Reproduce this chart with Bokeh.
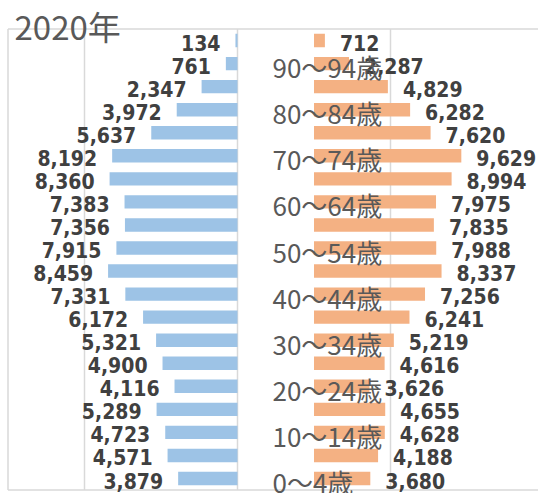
from bokeh.plotting import figure
from bokeh.models import ColumnDataSource, Range1d, Label
from bokeh.core.properties import value
from bokeh.embed import file_html
from bokeh.resources import INLINE

title_text = "2020年"
age_groups = ["0〜4歳", "5〜9歳", "10〜14歳", "15〜19歳", "20〜24歳", "25〜29歳",
              "30〜34歳", "35〜39歳", "40〜44歳", "45〜49歳", "50〜54歳", "55〜59歳",
              "60〜64歳", "65〜69歳", "70〜74歳", "75〜79歳", "80〜84歳", "85〜89歳",
              "90〜94歳", "95歳以上"]
male = [3879, 4571, 4723, 5289, 4116, 4900, 5321, 6172, 7331, 8459,
        7915, 7356, 7383, 8360, 8192, 5637, 3972, 2347, 761, 134]
female = [3680, 4188, 4628, 4655, 3626, 4616, 5219, 6241, 7256, 8337,
          7988, 7835, 7975, 8994, 9629, 7620, 6282, 4829, 2287, 712]

OFFSET = 5000  # gap between the two halves (layout)
W, H = 538, 493
CX = 237          # pixel of the centre line
PX = 0.0153       # px per unit
ROW = 23.05       # px per row
Y0 = 478          # pixel of row 0
x0 = -CX / PX
x1 = (W - CX) / PX

idx = list(range(len(age_groups)))
src = ColumnDataSource(dict(
    y=idx,
    m_left=[-v for v in male],
    m_lab=[f"{v:,}" for v in male],
    f_left=[OFFSET] * len(female),
    f_right=[OFFSET + v for v in female],
    f_lab=[f"{v:,}" for v in female],
))
lab_src = ColumnDataSource(dict(
    y=[i for i in idx if i % 2 == 0],
    x=[0 for i in idx if i % 2 == 0],
    t=[age_groups[i] for i in idx if i % 2 == 0],
))

p = figure(width=W, height=H, output_backend="svg", toolbar_location=None,
           x_range=Range1d(x0, x1),
           y_range=Range1d(-(H - Y0) / ROW, Y0 / ROW),
           min_border=0, min_border_left=0, min_border_right=0,
           min_border_top=0, min_border_bottom=0)
p.axis.visible = False
p.grid.visible = False
p.outline_line_color = None
p.background_fill_color = "white"

grid_col = "#d9d9d9"
# frame
left_edge = x0 + 7.5 / PX
p.segment(x0=[left_edge], y0=[-0.5], x1=[left_edge], y1=[19.5], line_color=grid_col, line_width=1.5)
p.segment(x0=[left_edge, left_edge], y0=[19.5, -0.5], x1=[x1, x1], y1=[19.5, -0.5],
          line_color=grid_col, line_width=1.5)
# gridlines
p.segment(x0=[-10000, 0, 10000], y0=[-0.5] * 3, x1=[-10000, 0, 10000], y1=[19.5] * 3,
          line_color=grid_col, line_width=1.5)

p.hbar(y="y", left="m_left", right=0, height=0.58, source=src,
       fill_color="#9DC3E6", line_color=None)
p.hbar(y="y", left="f_left", right="f_right", height=0.58, source=src,
       fill_color="#F4B183", line_color=None)

num_font = value("DejaVu Sans Condensed")
p.text(x="m_left", y="y", text="m_lab", source=src, text_align="right",
       text_baseline="middle", x_offset=-15, y_offset=2,
       text_font=num_font, text_font_style="bold", text_font_size="21px",
       text_color="#404040")
p.text(x="f_right", y="y", text="f_lab", source=src, text_align="left",
       text_baseline="middle", x_offset=15, y_offset=2,
       text_font=num_font, text_font_style="bold", text_font_size="21px",
       text_color="#404040")

p.text(x="x", y="y", text="t", source=lab_src, text_align="left",
       text_baseline="middle", x_offset=35, y_offset=3,
       text_font=value("Noto Sans CJK JP"), text_font_size="26px",
       text_color="#595959")

p.add_layout(Label(x=14, y=H - 25, x_units="screen", y_units="screen",
                   text=title_text, text_baseline="middle", text_align="left",
                   text_font="Noto Sans CJK JP", text_font_size="33px",
                   text_color="#595959"))

open("out.html", "w").write(file_html(p, INLINE))
